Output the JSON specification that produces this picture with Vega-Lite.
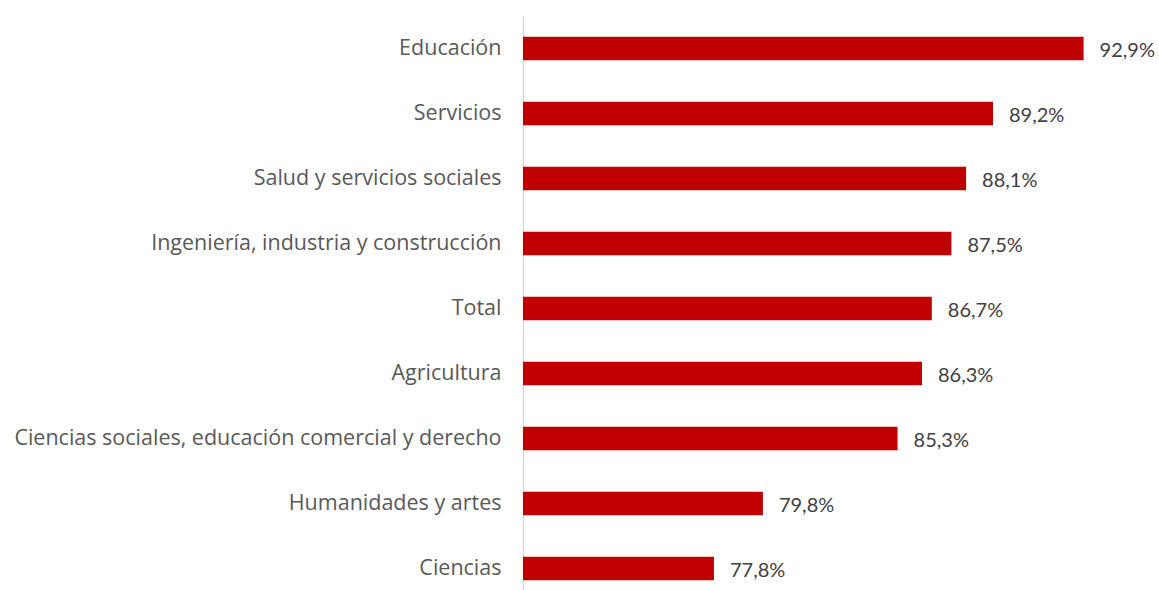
{
  "$schema": "https://vega.github.io/schema/vega-lite/v6.json",
  "autosize": "none",
  "width": 612,
  "height": 585,
  "padding": {"left": 523, "top": 16, "right": 24, "bottom": 0},
  "background": "white",
  "config": {"view": {"stroke": null}, "font": "Lato"},
  "data": {"values": [
    {"area": "Educación", "value": 92.9, "label": "92,9%"},
    {"area": "Servicios", "value": 89.2, "label": "89,2%"},
    {"area": "Salud y servicios sociales", "value": 88.1, "label": "88,1%"},
    {"area": "Ingeniería, industria y construcción", "value": 87.5, "label": "87,5%"},
    {"area": "Total", "value": 86.7, "label": "86,7%"},
    {"area": "Agricultura", "value": 86.3, "label": "86,3%"},
    {"area": "Ciencias sociales, educación comercial y derecho", "value": 85.3, "label": "85,3%"},
    {"area": "Humanidades y artes", "value": 79.8, "label": "79,8%"},
    {"area": "Ciencias", "value": 77.8, "label": "77,8%"}
  ]},
  "encoding": {
    "y": {"field": "area", "type": "nominal", "sort": null,
      "scale": {"paddingInner": 0.64, "paddingOuter": 0.32},
      "axis": {"title": null, "ticks": false, "domainColor": "#d9d9d9", "domainWidth": 1.5,
        "labelFontSize": 21.5, "labelColor": "#595959", "labelPadding": 22, "labelFont": "Open Sans", "labelLimit": 600, "labelOffset": 0}},
    "x": {"field": "value", "type": "quantitative", "stack": null, "scale": {"domain": [70, 95], "zero": false, "nice": false},
      "axis": null}
  },
  "layer": [
    {"mark": {"type": "bar", "color": "#c00000"}, "encoding": {"x2": {"datum": 70}}},
    {"mark": {"type": "text", "align": "left", "baseline": "middle", "dx": 16, "dy": 2, "fontSize": 20, "color": "#404040", "font": "Lato"},
     "encoding": {"text": {"field": "label"}}}
  ]
}
